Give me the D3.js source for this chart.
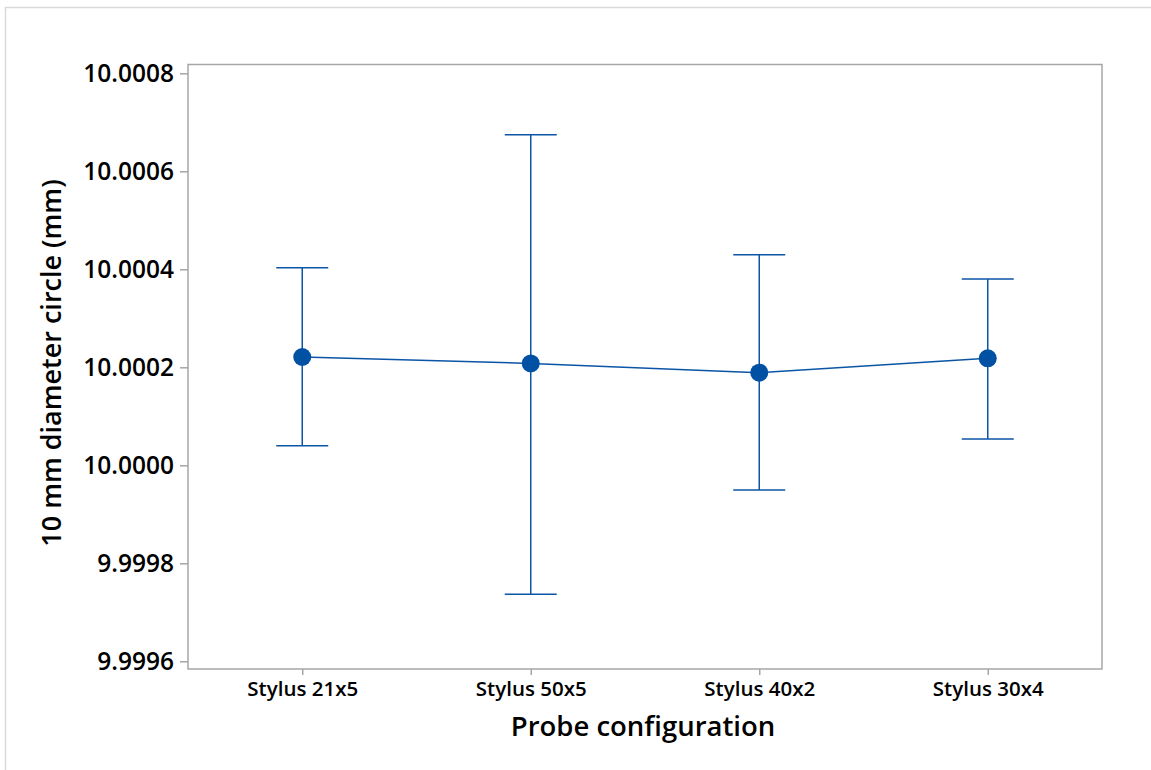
<!DOCTYPE html>
<html><head><meta charset="utf-8">
<script src="https://cdn.jsdelivr.net/npm/d3@7"></script>
<style>body{margin:0;background:#fff;}svg{display:block;font-family:"Open Sans",sans-serif;}</style>
</head><body><svg id="c" width="1151" height="770"></svg>
<script>
const categories = ["Stylus 21x5","Stylus 50x5","Stylus 40x2","Stylus 30x4"];
const means = [10.000221, 10.000208, 10.000189, 10.0002184];
const upper = [10.0004033, 10.0006747, 10.0004298, 10.0003802];
const lower = [10.00004, 9.9997367, 9.9999496, 10.0000537];
const yTicks = [9.9996, 9.9998, 10.0000, 10.0002, 10.0004, 10.0006, 10.0008];

const svg = d3.select("#c");
const L = 188, R = 1102, T = 64.5, B = 669;
const col = "#0a55a6";

svg.append("line").attr("x1",5).attr("x2",1151).attr("y1",7.5).attr("y2",7.5).attr("stroke","#d9d9d9").attr("stroke-width",1.5);
svg.append("line").attr("x1",5.5).attr("x2",5.5).attr("y1",7).attr("y2",770).attr("stroke","#d9d9d9").attr("stroke-width",1.5);

const x = d3.scalePoint().domain(categories).range([L, R]).padding(0.5);
const y = d3.scaleLinear().domain([9.9996, 10.0008]).range([661.3, 73.3]);

svg.append("rect").attr("x",L).attr("y",T).attr("width",R-L).attr("height",B-T)
  .attr("fill","none").attr("stroke","#a6a6a6").attr("stroke-width",1.5);

const ya = svg.append("g").attr("transform",`translate(${L},0)`)
  .call(d3.axisLeft(y).tickValues(yTicks).tickFormat(d3.format(".4f")).tickSize(8).tickPadding(6));
ya.select(".domain").remove();
ya.selectAll("line").attr("stroke","#a6a6a6").attr("stroke-width",1.5);
ya.selectAll("text").attr("fill","#000").style("font-size","24.5px").style("font-weight","600").attr("font-family","Open Sans");

const xa = svg.append("g").attr("transform",`translate(0,${B})`)
  .call(d3.axisBottom(x).tickSize(6).tickPadding(6));
xa.select(".domain").remove();
xa.selectAll("line").attr("stroke","#a6a6a6").attr("stroke-width",1.5);
xa.selectAll("text").attr("fill","#000").style("font-size","20.5px").style("font-weight","600").attr("font-family","Open Sans");

const data = categories.map((c,i)=>({c, m:means[i], u:upper[i], l:lower[i]}));
const g = svg.append("g");
data.forEach(d=>{
  const cx = x(d.c);
  g.append("line").attr("x1",cx).attr("x2",cx).attr("y1",y(d.u)).attr("y2",y(d.l)).attr("stroke",col).attr("stroke-width",1.5);
  g.append("line").attr("x1",cx-26).attr("x2",cx+26).attr("y1",y(d.u)).attr("y2",y(d.u)).attr("stroke",col).attr("stroke-width",1.5);
  g.append("line").attr("x1",cx-26).attr("x2",cx+26).attr("y1",y(d.l)).attr("y2",y(d.l)).attr("stroke",col).attr("stroke-width",1.5);
});
g.append("path").datum(data).attr("fill","none").attr("stroke",col).attr("stroke-width",1.5)
  .attr("d", d3.line().x(d=>x(d.c)).y(d=>y(d.m)));
g.selectAll("circle").data(data).join("circle").attr("cx",d=>x(d.c)).attr("cy",d=>y(d.m)).attr("r",9).attr("fill","#0050a4");

svg.append("text").attr("x",643).attr("y",736).attr("text-anchor","middle")
  .style("font-size","27.5px").style("font-weight","600").text("Probe configuration");
svg.append("text").attr("transform","translate(61,363) rotate(-90)").attr("text-anchor","middle")
  .style("font-size","27px").style("font-weight","600").text("10 mm diameter circle (mm)");
</script></body></html>
